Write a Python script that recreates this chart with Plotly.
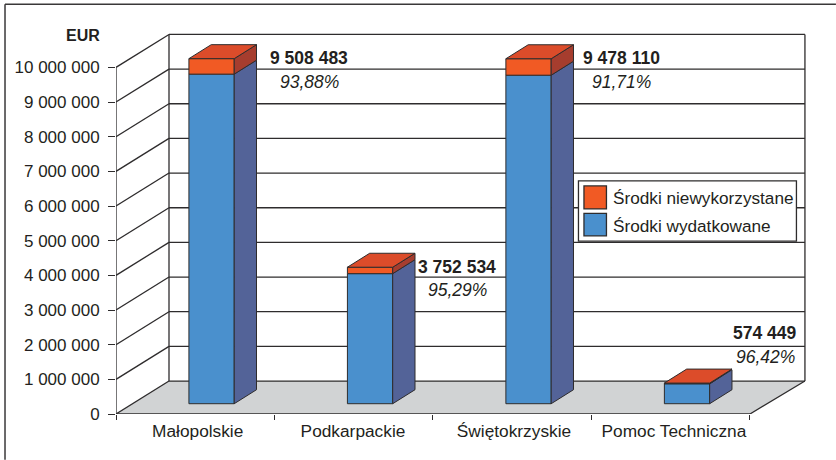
import plotly.graph_objects as go

categories = ["Małopolskie", "Podkarpackie", "Świętokrzyskie", "Pomoc Techniczna"]
spent = [9508483, 3752534, 9478110, 574449]
unused = [447000, 185000, 475000, 21000]
value_labels = ["9 508 483", "3 752 534", "9 478 110", "574 449"]
percent_labels = ["93,88%", "95,29%", "91,71%", "96,42%"]
y_ticks = list(range(0, 10000001, 1000000))
y_tick_labels = ["0", "1 000 000", "2 000 000", "3 000 000", "4 000 000", "5 000 000",
                 "6 000 000", "7 000 000", "8 000 000", "9 000 000", "10 000 000"]
series_names = ["Środki niewykorzystane", "Środki wydatkowane"]

# pixel calibration of the axes
PX0, PY0, PXU, PYU = 116.0, 414.3, 158.5, 34.7e-6
W, H = 836, 460
X_MAX, Y_MAX = 4.36, 11.05e6
ML, MB = PX0, H - PY0
MR = W - (PX0 + X_MAX * PXU)
MT = PY0 - Y_MAX * PYU
PW, PH = X_MAX * PXU, Y_MAX * PYU

def dx(px): return (px - PX0) / PXU
def dy(py): return (PY0 - py) / PYU
def paper_x(px): return (px - ML) / PW
def paper_y(py): return (H - MB - py) / PH

WALL_DX, WALL_DY = 53 / PXU, 33 / PYU
RIGHT_FRONT = 4.0
RIGHT_BACK = dx(805)
BAR_DX, BAR_DY = 22.3 / PXU, 14 / PYU
BAR_BASE = 10.3 / PYU
BAR_W = 45.3 / PXU
BAR_OFF = 0.603

INK = "#2e2c2d"
TEXT = "#231f20"
BLUE, BLUE_SIDE = "#4a90cd", "#536398"
ORANGE, ORANGE_SIDE, TOP = "#f15a24", "#a63d2e", "#dc4c2a"
FLOOR = "#d1d3d4"
FONT = "Liberation Sans, Arial"

bar_x = [i + BAR_OFF for i in range(len(categories))]
base_spent = [BAR_BASE] * len(categories)
base_unused = [BAR_BASE + s for s in spent]

fig = go.Figure()
fig.add_bar(x=bar_x, y=spent, base=base_spent, width=BAR_W, name=series_names[1],
            marker=dict(color=BLUE, line=dict(color=INK, width=1)), showlegend=False)
fig.add_bar(x=bar_x, y=unused, base=base_unused, width=BAR_W, name=series_names[0],
            marker=dict(color=ORANGE, line=dict(color=INK, width=1)), showlegend=False)

def poly_trace(polys, fill):
    xs, ys = [], []
    for p in polys:
        xs += [a for a, _ in p] + [p[0][0], None]
        ys += [b for _, b in p] + [p[0][1], None]
    fig.add_scatter(x=xs, y=ys, mode="lines", fill="toself", fillcolor=fill,
                    line=dict(color=INK, width=1), showlegend=False, hoverinfo="skip")

def side(x, low, high):
    r = x + BAR_W / 2
    return [(r, low), (r + BAR_DX, low + BAR_DY), (r + BAR_DX, high + BAR_DY), (r, high)]

def top(x, lvl):
    l, r = x - BAR_W / 2, x + BAR_W / 2
    return [(l, lvl), (r, lvl), (r + BAR_DX, lvl + BAR_DY), (l + BAR_DX, lvl + BAR_DY)]

poly_trace([side(x, b, b + s) for x, b, s in zip(bar_x, base_spent, spent)], BLUE_SIDE)
poly_trace([side(x, b, b + u) for x, b, u in zip(bar_x, base_unused, unused)], ORANGE_SIDE)
poly_trace([top(x, b + u) for x, b, u in zip(bar_x, base_unused, unused)], TOP)

# left wall and front edge (never overlap the bars)
lx, ly = [], []
for v in y_ticks:
    lx += [0, WALL_DX, None]
    ly += [v, v + WALL_DY, None]
lx += [0, 0, None, 0, RIGHT_FRONT, RIGHT_BACK]
ly += [0, y_ticks[-1], None, 0, 0, WALL_DY]
fig.add_scatter(x=lx, y=ly, mode="lines", line=dict(color=INK, width=1.3),
                showlegend=False, hoverinfo="skip", cliponaxis=False)

shapes = []
shapes.append(dict(type="path", layer="below", xref="x", yref="y",
                   path=f"M0,0 L{RIGHT_FRONT},0 L{RIGHT_BACK},{WALL_DY} L{WALL_DX},{WALL_DY} Z",
                   fillcolor=FLOOR, line=dict(width=0)))
for v in y_ticks:
    shapes.append(dict(type="line", layer="below", xref="x", yref="y",
                       x0=WALL_DX, x1=RIGHT_BACK, y0=v + WALL_DY, y1=v + WALL_DY,
                       line=dict(color=INK, width=1.3)))
for xv in (WALL_DX, RIGHT_BACK):
    shapes.append(dict(type="line", layer="below", xref="x", yref="y",
                       x0=xv, x1=xv, y0=WALL_DY, y1=y_ticks[-1] + WALL_DY,
                       line=dict(color=INK, width=1.3)))

# outer frame
frame = dict(color="#3a3839", width=1.5)
shapes.append(dict(type="line", xref="paper", yref="paper", x0=paper_x(5), x1=paper_x(836),
                   y0=paper_y(4), y1=paper_y(4), line=frame))
shapes.append(dict(type="line", xref="paper", yref="paper", x0=paper_x(5), x1=paper_x(5),
                   y0=paper_y(4), y1=paper_y(460), line=frame))

# legend box
def rect(x0, y0, x1, y1, fill, w=1.3):
    return dict(type="rect", layer="above", xref="paper", yref="paper",
                x0=paper_x(x0), x1=paper_x(x1), y0=paper_y(y0), y1=paper_y(y1),
                fillcolor=fill, line=dict(color=INK, width=w))
shapes.append(rect(578.5, 181, 796.5, 241.3, "white"))
shapes.append(rect(584, 186, 606.5, 209, ORANGE))
shapes.append(rect(584, 213.5, 606.5, 236, BLUE))

ann = []
def text(px, py, s, size=17.5, bold=False, italic=False, anchor="center"):
    t = f"<b>{s}</b>" if bold else s
    t = f"<i>{t}</i>" if italic else t
    ann.append(dict(x=paper_x(px), y=paper_y(py), xref="paper", yref="paper", text=t, showarrow=False,
                    xanchor=anchor, yanchor="middle",
                    font=dict(family=FONT, size=size, color=TEXT)))

value_pos = [(309, 58), (457.5, 267), (621.5, 58), (765.5, 333)]
pct_pos = [(310, 82), (458, 290), (621.5, 82), (766, 357)]
for (px, py), s in zip(value_pos, value_labels):
    text(px, py, s, bold=True)
for (px, py), s in zip(pct_pos, percent_labels):
    text(px, py, s, italic=True)
text(82.5, 35, "EUR", size=16, bold=True)
text(611, 198, series_names[0], size=17.2, anchor="left")
text(611, 226, series_names[1], size=17.2, anchor="left")

label_centers = [197.7, 353, 514, 674]

fig.update_layout(
    width=W, height=H, autosize=False, barmode="overlay", showlegend=False,
    plot_bgcolor="white", paper_bgcolor="white",
    margin=dict(l=ML, r=MR, t=MT, b=MB, pad=0),
    font=dict(family=FONT, size=17, color=TEXT),
    shapes=shapes, annotations=ann,
    xaxis=dict(range=[0, X_MAX], showgrid=False, zeroline=False, showline=False,
               tickmode="array", tickvals=[dx(p) for p in label_centers],
               ticktext=categories, ticks="", ticklabelstandoff=5,
               tickfont=dict(family=FONT, size=17.3, color=TEXT),
               minor=dict(tickmode="array", tickvals=list(range(len(categories) + 1)),
                          ticks="outside", ticklen=5, tickwidth=1.3, tickcolor=INK, showgrid=False)),
    yaxis=dict(range=[0, Y_MAX], showgrid=False, zeroline=False, showline=False,
               tickmode="array", tickvals=y_ticks, ticktext=y_tick_labels,
               ticks="outside", ticklen=7, tickwidth=1.3, tickcolor=INK, ticklabelstandoff=5,
               tickfont=dict(family=FONT, size=17, color=TEXT)),
)
fig.write_html("out.html", config=dict(displayModeBar=False),
               post_script="document.body.style.margin='0';document.body.style.overflow='hidden';")
